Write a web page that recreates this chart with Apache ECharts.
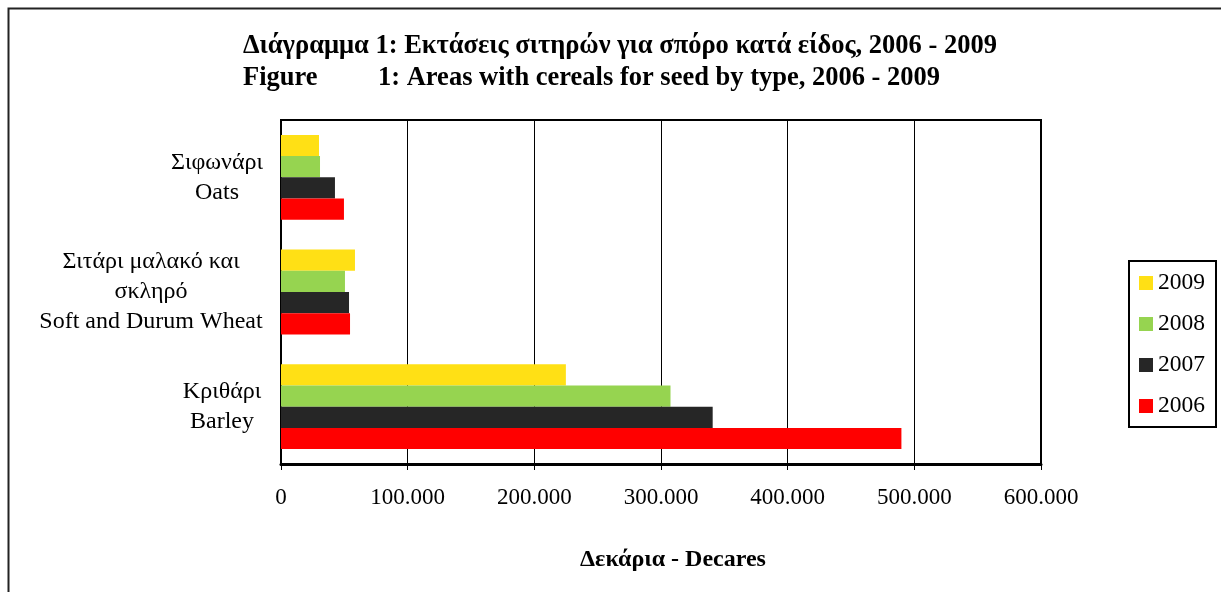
<!DOCTYPE html>
<html>
<head>
<meta charset="utf-8">
<script src="https://cdn.jsdelivr.net/npm/echarts@6/dist/echarts.min.js"></script>
<style>
html,body{margin:0;padding:0;background:#fff;}
#chart{width:1221px;height:592px;}
</style>
</head>
<body>
<div id="chart"></div>
<script>
// Categories (bottom to top)
const categories = ['Κριθάρι\nBarley', 'Σιτάρι μαλακό και\nσκληρό\nSoft and Durum Wheat', 'Σιφωνάρι\nOats'];
const years = ['2009', '2008', '2007', '2006'];
const values2006 = [489800, 54500, 49700];
const values2007 = [340800, 53700, 42600];
const values2008 = [307500, 50500, 30800];
const values2009 = [224900, 58400, 30000];
const xTickLabels = ['0', '100.000', '200.000', '300.000', '400.000', '500.000', '600.000'];
const titleLine1 = 'Διάγραμμα 1: Εκτάσεις σιτηρών για σπόρο κατά είδος, 2006 - 2009';
const titleLine2a = 'Figure';
const titleLine2b = '1: Areas with cereals for seed by type, 2006 - 2009';
const xAxisName = 'Δεκάρια - Decares';

const colors = {'2006': '#FF0000', '2007': '#262626', '2008': '#96D450', '2009': '#FFE015'};
const seriesValues = {'2006': values2006, '2007': values2007, '2008': values2008, '2009': values2009};
const FONT = '"Liberation Serif", "Times New Roman", serif';
const richKeys = ['c', 'b', 'a'];

const chart = echarts.init(document.getElementById('chart'), null, {renderer: 'canvas'});
chart.setOption({
  animation: false,
  backgroundColor: '#fff',
  textStyle: {fontFamily: FONT},
  graphic: [
    {type: 'rect', left: 6, top: 6, shape: {x: 0, y: 0, width: 1240, height: 620},
     style: {fill: 'none', stroke: '#222', lineWidth: 2}, z: -1},
    {type: 'text', left: 243, top: 33, style: {text: titleLine1, font: 'bold 26.5px ' + FONT, fill: '#000'}},
    {type: 'text', left: 243, top: 65, style: {text: titleLine2a, font: 'bold 26.5px ' + FONT, fill: '#000'}},
    {type: 'text', left: 378, top: 65, style: {text: titleLine2b, font: 'bold 26.5px ' + FONT, fill: '#000'}}
  ],
  legend: {
    orient: 'vertical',
    left: 1129, top: 261,
    data: ['2009', '2008', '2007', '2006'],
    icon: 'rect', itemWidth: 14, itemHeight: 14, itemGap: 17,
    padding: [10, 11, 9, 10],
    borderColor: '#000', borderWidth: 2,
    textStyle: {fontFamily: FONT, fontSize: 23.5, color: '#000'}
  },
  grid: {left: 281, right: 180, top: 120, bottom: 128, show: true, borderColor: '#000', borderWidth: 2, containLabel: false},
  xAxis: {
    type: 'value', min: 0, max: 600000, interval: 100000,
    name: xAxisName, nameLocation: 'middle', nameGap: 84,
    nameTextStyle: {fontFamily: FONT, fontSize: 24, fontWeight: 'bold', color: '#000', padding: [0, 0, 0, 24]},
    axisLine: {show: true, lineStyle: {color: '#000', width: 3}},
    axisTick: {show: true, length: 6, lineStyle: {color: '#000', width: 1}},
    axisLabel: {
      margin: 22, fontFamily: FONT, fontSize: 23, color: '#000',
      formatter: v => xTickLabels[Math.round(v / 100000)]
    },
    splitLine: {show: true, lineStyle: {color: '#000', width: 1}}
  },
  yAxis: {
    type: 'category', data: categories,
    axisLine: {show: true, lineStyle: {color: '#000', width: 2}},
    axisTick: {show: false},
    splitLine: {show: false},
    axisLabel: {
      margin: 18, align: 'right', color: '#000',
      formatter: (v, i) => v.split('\n').map(l => '{' + richKeys[i] + '|' + l + '}').join('\n'),
      rich: {
        a: {width: 92, align: 'center', fontFamily: FONT, fontSize: 24, lineHeight: 30, color: '#000'},
        b: {width: 224, align: 'center', fontFamily: FONT, fontSize: 24, lineHeight: 30, color: '#000'},
        c: {width: 82, align: 'center', fontFamily: FONT, fontSize: 24, lineHeight: 30, color: '#000'}
      }
    }
  },
  series: years.map(y => ({
    name: y, type: 'bar', data: seriesValues[y],
    itemStyle: {color: colors[y]},
    barGap: '0%', barCategoryGap: '26%'
  }))
});
</script>
</body>
</html>
